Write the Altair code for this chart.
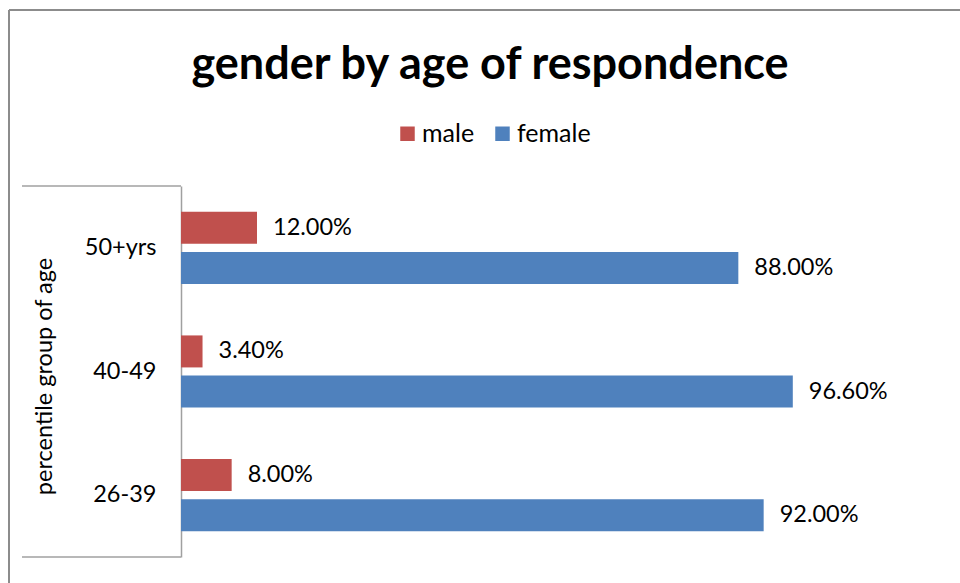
import altair as alt
import pandas as pd

# ---- data ----
age_groups = ["50+yrs", "40-49", "26-39"]
genders = ["male", "female"]
male_pct = [12.0, 3.4, 8.0]
female_pct = [88.0, 96.6, 92.0]
colors = ["#C0504D", "#4F81BD"]

title_text = "gender by age of respondence"
y_title = "percentile group of age"

rows = []
for g, m, f in zip(age_groups, male_pct, female_pct):
    rows.append({"group": g, "gender": "male", "pct": m, "label": f"{m:.2f}%"})
    rows.append({"group": g, "gender": "female", "pct": f, "label": f"{f:.2f}%"})
df = pd.DataFrame(rows)

FONT = "Lato"
W, H = 760, 371

base = alt.Chart(df).encode(
    y=alt.Y(
        "group:N",
        sort=age_groups,
        scale=alt.Scale(paddingInner=0, paddingOuter=0),
        axis=alt.Axis(
            title=y_title,
            titleFont=FONT,
            titleFontSize=23.5,
            titleFontWeight="normal",
            titleColor="#000000",
            titleAngle=-90,
            titleX=-137,
            titleY=190,
            titleAlign="center",
            titleBaseline="middle",
            labelFont=FONT,
            labelFontSize=23.5,
            labelColor="#000000",
            labelPadding=25,
            ticks=False,
            domainColor="#a0a0a0",
            domainWidth=1.5,
            grid=False,
        ),
    ),
    yOffset=alt.YOffset(
        "gender:N",
        sort=genders,
        scale=alt.Scale(paddingInner=0.2, paddingOuter=0.64),
    ),
    x=alt.X(
        "pct:Q",
        scale=alt.Scale(domain=[0, 120], nice=False, zero=True),
        axis=None,
    ),
)

bars = base.mark_bar(size=32).encode(
    color=alt.Color(
        "gender:N",
        sort=genders,
        scale=alt.Scale(domain=genders, range=colors),
        legend=alt.Legend(
            title=None,
            orient="none",
            direction="horizontal",
            legendX=214,
            legendY=-65,
            symbolType="square",
            symbolSize=210,
            symbolStrokeWidth=0,
            labelFont=FONT,
            labelFontSize=25,
            labelColor="#000000",
            labelOffset=2,
            columnPadding=15,
        ),
    )
)

labels = base.mark_text(
    align="left", baseline="middle", dx=16, font=FONT, fontSize=23.5, color="#000000"
).encode(text="label:N")

one = pd.DataFrame({"k": [0]})

title = alt.Chart(one).mark_text(
    text=title_text, font=FONT, fontSize=45, fontWeight="bold",
    align="center", baseline="alphabetic", color="#000000",
).encode(x=alt.value(309), y=alt.value(-107))

gray = "#a0a0a0"
box_top = alt.Chart(one).mark_rule(color=gray, strokeWidth=1.5).encode(
    x=alt.value(-159), x2=alt.value(0), y=alt.value(0))
box_bottom = alt.Chart(one).mark_rule(color=gray, strokeWidth=1.5).encode(
    x=alt.value(-159), x2=alt.value(0), y=alt.value(H))
outer_top = alt.Chart(one).mark_rule(color="#8c8c8c", strokeWidth=2).encode(
    x=alt.value(-172), x2=alt.value(779), y=alt.value(-176))
outer_left = alt.Chart(one).mark_rule(color="#8c8c8c", strokeWidth=2).encode(
    x=alt.value(-172), y=alt.value(-176), y2=alt.value(397))

chart = (
    alt.layer(outer_top, outer_left, box_top, box_bottom, bars, labels, title)
    .properties(
        width=W,
        height=H,
        padding={"left": 181, "top": 186, "right": 19, "bottom": 26},
        autosize=alt.AutoSizeParams(type="none"),
        background="white",
    )
    .configure_view(stroke=None)
)

chart.save("out.html", embed_options={"renderer": "svg", "actions": False})
